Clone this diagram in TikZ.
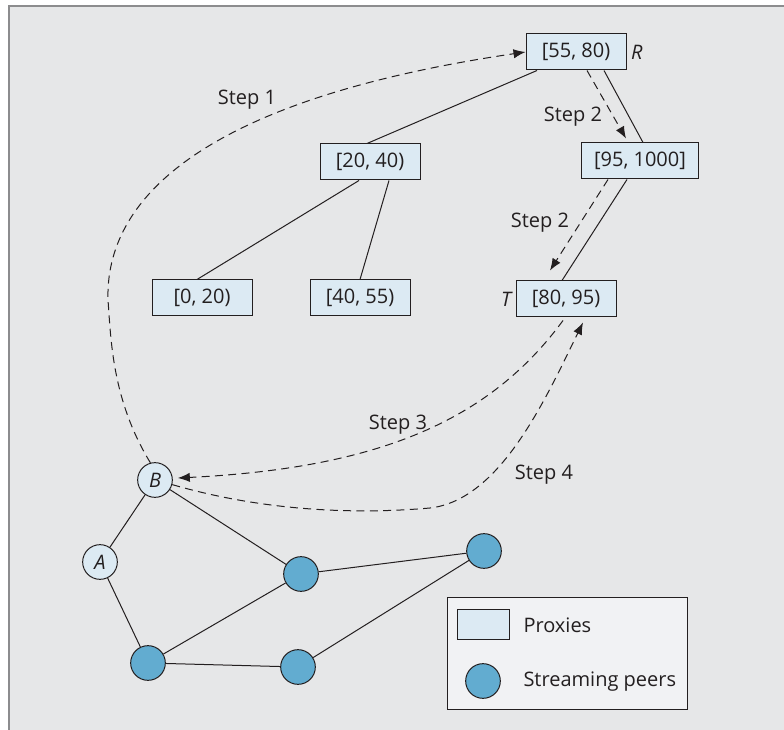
\documentclass[tikz,border=0pt]{standalone}
\usepackage{fontspec}
\setmainfont{Open Sans}
\usetikzlibrary{arrows.meta,positioning,calc}

\definecolor{panelgrey}{HTML}{E6E7E8}
\definecolor{framegrey}{HTML}{8C8C8E}
\definecolor{inkdark}{HTML}{231F20}
\definecolor{proxyblue}{HTML}{DCEAF3}
\definecolor{peerblue}{HTML}{62ACD0}
\definecolor{legendgrey}{HTML}{F1F2F4}

\tikzset{every picture/.style={line width=0.75pt}}
\tikzset{
  proxybox/.style={draw=inkdark, fill=proxyblue, minimum width=75pt, minimum height=27pt, inner sep=0pt, font=\fontsize{15}{18}\selectfont},
  peer/.style={circle, draw=inkdark, fill=peerblue, minimum size=26pt, inner sep=0pt},
  client/.style={circle, draw=inkdark, fill=proxyblue, minimum size=26pt, inner sep=0pt, font=\fontsize{15}{18}\selectfont\itshape},
  steplabel/.style={inner sep=0pt, font=\fontsize{15}{18}\selectfont},
  tag/.style={inner sep=0pt, font=\fontsize{15}{18}\selectfont\itshape},
  hop/.style={dash pattern=on 6pt off 4pt, -{Latex[length=9pt,width=7pt]}},
}

\begin{document}
\begin{tikzpicture}[x=0.75pt,y=0.75pt,yscale=-1,xscale=1,color=inkdark]
\useasboundingbox (0,0) rectangle (784,730);

% panel
\fill[panelgrey] (9,6) rectangle (784,730);
\draw[framegrey, line width=1.5pt] (9,730) -- (9,6) -- (784,6);

% Proxy tree
\node[proxybox] (r) at (576,52) {[55, 80)};
\node[proxybox, minimum width=88pt] (rb) at (640,161) {[95, 1000]};
\node[proxybox] (lm) at (370,162) {[20, 40)};
\node[proxybox] (ll) at (202,298) {[0, 20)};
\node[proxybox] (lr) at (360,298) {[40, 55)};
\node[proxybox] (t) at (566,299) {[80, 95)};
\node[tag, right=3pt of r] (rtag) {R};
\node[tag, left=3pt of t] (ttag) {T};

\draw ($(r.south)+(-39,0)$) -- ($(lm.north)+(-3,0)$);
\draw ($(r.south)+(28,0)$) -- ($(rb.north)+(3,0)$);
\draw ($(lm.south)+(-11,0)$) -- ($(ll.north)+(-5,0)$);
\draw ($(lm.south)+(19,0)$) -- (lr.north);
\draw ($(rb.south)+(-13,0)$) -- ($(t.north)+(-4,0)$);

% Streaming peers
\node[client] (b) at (155,480) {B};
\node[client] (a) at (100,562) {A};
\node[peer] (p1) at (148,663) {};
\node[peer] (p2) at (301,574) {};
\node[peer] (p3) at (298,667) {};
\node[peer] (p4) at (484,551) {};

\draw (b) -- (a);
\draw (b) -- (p2);
\draw (a) -- (p1);
\draw (p1) -- (p2);
\draw (p1) -- (p3);
\draw (p2) -- (p4);
\draw (p3) -- (p4);

% Steps
\node[steplabel] (s1) at (247,100) {Step 1};
\node[steplabel] (s2a) at (573,117) {Step 2};
\node[steplabel] (s2b) at (540,223) {Step 2};
\node[steplabel] (s3) at (398,425) {Step 3};
\node[steplabel] (s4) at (544,475) {Step 4};

\draw[hop] (b.105) .. controls (112,400) and (111,340) .. (108,300) .. controls (105,200) and (200,100) .. (r.west);
\draw[hop] ($(r.south)+(11,0)$) -- ($(rb.north)+(-14,-4)$);
\draw[hop] ($(rb.south)+(-32,0)$) -- ($(t.north)+(-16,-10)$);
\draw[hop] ($(t.south)+(-3,3)$) .. controls (490,420) and (380,468) .. ($(b.east)+(5,-2)$);
\draw[hop] (b.-15) .. controls (260,510) and (350,515) .. (430,508) .. controls (500,500) and (545,400) .. ($(t.south)+(17,5)$);

% Legend
\node[draw, fill=legendgrey, minimum width=180pt, minimum height=84pt, inner sep=0pt] (legend) at (567,653) {};
\node[proxybox, minimum width=39pt, minimum height=23pt] (keyproxy) at (483,624.5) {};
\node[peer] (keypeer) at (483,681) {};
\node[steplabel, anchor=west] (keyproxytext) at (523,625) {Proxies};
\node[steplabel, anchor=west] (keypeertext) at (523,682) {Streaming peers};

\end{tikzpicture}
\end{document}
